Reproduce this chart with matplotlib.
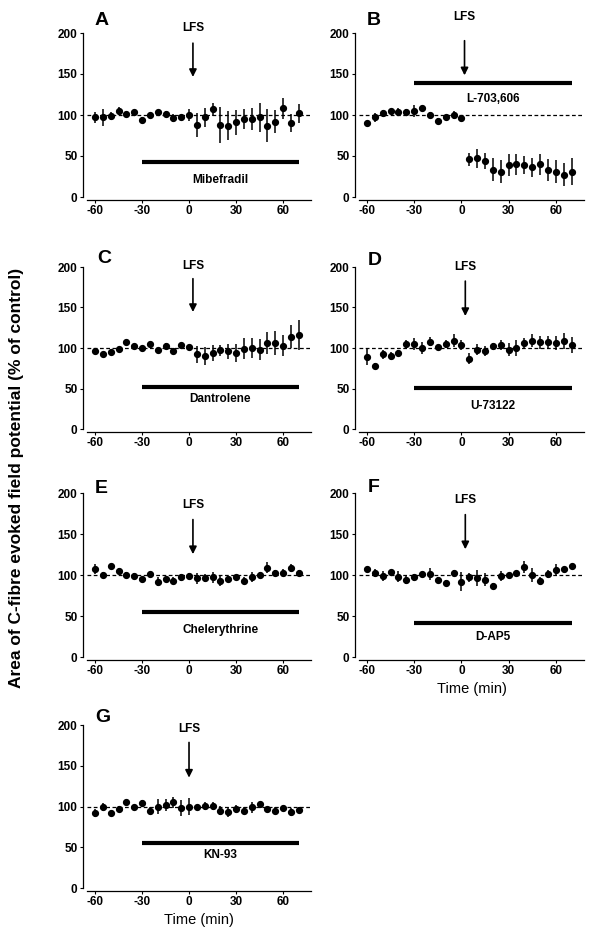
import matplotlib
matplotlib.use("Agg")
import matplotlib.pyplot as plt

plt.rcParams['font.family'] = ['Liberation Sans', 'DejaVu Sans']
plt.rcParams['font.weight'] = 'bold'
plt.rcParams['axes.unicode_minus'] = False

# time points (min)
time = list(range(-60, 75, 5))

# mean (% of control) and SEM
a_mean = [97, 97, 99, 105, 101, 104, 94, 100, 104, 101, 96, 97, 100, 88, 97, 107, 88, 87, 91, 95, 95, 97, 87, 92, 108, 90, 102]
a_err = [7, 10, 5, 5, 2, 2, 4, 3, 2, 4, 5, 2, 7, 15, 12, 8, 22, 18, 15, 12, 13, 18, 20, 14, 13, 11, 12]
b_mean = [90, 97, 102, 105, 104, 104, 105, 109, 100, 93, 97, 100, 96, 46, 47, 44, 33, 31, 39, 40, 39, 36, 40, 33, 31, 27, 31]
b_err = [2, 5, 4, 2, 4, 3, 7, 2, 4, 3, 2, 5, 3, 8, 12, 10, 14, 14, 14, 13, 11, 12, 13, 13, 14, 14, 16]
c_mean = [96, 92, 95, 99, 108, 103, 100, 105, 98, 103, 96, 104, 101, 92, 90, 94, 97, 96, 94, 99, 100, 98, 106, 106, 103, 114, 116]
c_err = [3, 2, 2, 2, 2, 2, 2, 3, 2, 3, 3, 2, 2, 10, 11, 10, 7, 9, 11, 13, 12, 13, 14, 15, 13, 14, 18]
d_mean = [89, 78, 92, 90, 94, 105, 105, 100, 108, 101, 105, 109, 104, 87, 98, 96, 102, 104, 98, 100, 106, 109, 107, 107, 106, 109, 104]
d_err = [10, 4, 6, 5, 3, 5, 7, 8, 6, 3, 5, 8, 6, 7, 7, 6, 4, 6, 8, 10, 6, 8, 8, 8, 9, 10, 10]
e_mean = [107, 100, 111, 105, 100, 99, 95, 101, 92, 95, 93, 97, 99, 96, 96, 97, 93, 95, 97, 93, 98, 100, 109, 103, 103, 109, 103]
e_err = [6, 4, 3, 3, 4, 3, 3, 3, 6, 3, 4, 4, 4, 7, 5, 7, 6, 4, 2, 4, 6, 4, 7, 3, 4, 5, 3]
f_mean = [107, 102, 99, 104, 98, 94, 97, 101, 101, 94, 90, 103, 92, 97, 96, 94, 87, 99, 100, 102, 110, 100, 93, 101, 106, 107, 111]
f_err = [2, 5, 6, 2, 7, 5, 4, 2, 7, 3, 4, 3, 12, 6, 10, 8, 3, 6, 2, 3, 7, 8, 4, 5, 7, 3, 3]
g_mean = [92, 99, 92, 97, 106, 99, 104, 95, 100, 102, 105, 98, 100, 99, 101, 101, 95, 93, 97, 95, 99, 103, 97, 95, 98, 93, 96]
g_err = [5, 5, 2, 4, 2, 2, 4, 4, 9, 7, 7, 10, 10, 3, 5, 5, 6, 6, 5, 4, 7, 2, 3, 4, 3, 5, 4]

letters = ['A', 'B', 'C', 'D', 'E', 'F', 'G']
drugs = ['Mibefradil', 'L-703,606', 'Dantrolene', 'U-73122', 'Chelerythrine', 'D-AP5', 'KN-93']
means = [a_mean, b_mean, c_mean, d_mean, e_mean, f_mean, g_mean]
errs = [a_err, b_err, c_err, d_err, e_err, f_err, g_err]

# drug bar (y, label y), LFS arrow (x, top, tip, text y)
bar_y = [43, 139, 52, 51, 55, 42, 55]
bar_txt = [21, 120, 37, 28, 33, 24, 40]
lfs_x = [2.5, 2, 2.5, 2.5, 2.5, 2.5, 0]
lfs_top = [191, 194, 189, 186, 171, 177, 182]
lfs_tip = [143, 145, 141, 136, 122, 128, 132]
lfs_txt = [206, 220, 201, 200, 185, 191, 195]

W, H = 600, 938
fig = plt.figure(figsize=(6, 9.38), dpi=100)

col_left = [87.2, 359.1]
col_w = [224, 225]
row_px = [(33, 197), (267, 429), (493, 657), (725, 888)]
letter_pos = [(95, 25), (367, 25), (97, 263), (368, 265), (95, 493), (368, 492), (95, 722)]

for i in range(7):
    r, c = i // 2, i % 2
    top, bot = row_px[r]
    ax = fig.add_axes([col_left[c] / W, 1 - bot / H, col_w[c] / W, (bot - top) / H])
    ax.errorbar(time, means[i], yerr=errs[i], fmt='o', color='k', ms=4.2,
                elinewidth=1.1, capsize=0, zorder=3)
    ax.axhline(100, color='k', lw=0.9, ls=(0, (3, 2)), zorder=2)
    ax.plot([-30, 70], [bar_y[i], bar_y[i]], color='k', lw=3, solid_capstyle='butt')
    ax.text(20, bar_txt[i], drugs[i], ha='center', va='center', fontsize=8.5)
    ax.annotate('', xy=(lfs_x[i], lfs_tip[i]), xytext=(lfs_x[i], lfs_top[i]),
                arrowprops=dict(arrowstyle='-|>', color='k', lw=1.2, mutation_scale=11),
                annotation_clip=False)
    ax.text(lfs_x[i], lfs_txt[i], 'LFS', ha='center', va='center', fontsize=8.5, clip_on=False)

    ax.set_xlim(-65, 78)
    ax.set_ylim(0, 200)
    ax.set_xticks([-60, -30, 0, 30, 60])
    ax.set_yticks([0, 50, 100, 150, 200])
    ax.spines['top'].set_visible(False)
    ax.spines['right'].set_visible(False)
    ax.spines['left'].set_position(('outward', 3))
    ax.spines['bottom'].set_position(('outward', 2))
    ax.tick_params(labelsize=8.5, length=2, width=0.8, pad=2)
    for s in ['left', 'bottom']:
        ax.spines[s].set_linewidth(0.9)
    if letters[i] in ('F', 'G'):
        ax.set_xlabel('Time (min)', fontsize=10.5, labelpad=3)

    lx, ly = letter_pos[i]
    fig.text(lx / W, 1 - ly / H, letters[i], fontsize=14, va='baseline', ha='left')

fig.text(0.027, 1 - 478 / H, 'Area of C-fibre evoked field potential (% of control)',
         rotation=90, ha='center', va='center', fontsize=12.5)

fig.savefig('out.png', dpi=100)
